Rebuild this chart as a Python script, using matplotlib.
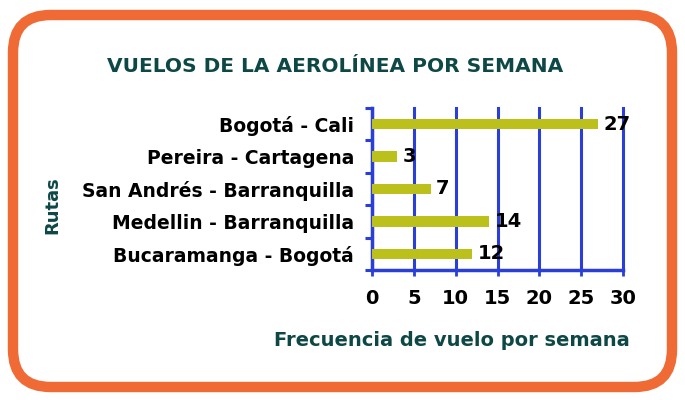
import matplotlib
matplotlib.use("Agg")
import matplotlib.pyplot as plt
from matplotlib.patches import FancyBboxPatch

# data
rutas = ["Bucaramanga - Bogotá", "Medellin - Barranquilla", "San Andrés - Barranquilla",
         "Pereira - Cartagena", "Bogotá - Cali"]
vuelos = [12, 14, 7, 3, 27]
xticks = [0, 5, 10, 15, 20, 25, 30]

verde = "#0e4846"
azul = "#2a3ed8"
barra = "#bcc01b"
naranja = "#f06a35"

plt.rcParams["font.family"] = "DejaVu Sans"

fig = plt.figure(figsize=(6.85, 4.0), dpi=100)

# orange rounded frame, behind the axes
marco = FancyBboxPatch((13 / 685, 13 / 400), 659 / 685, 372 / 400,
                       boxstyle="round,pad=0,rounding_size=0.055",
                       transform=fig.transFigure, facecolor="white",
                       edgecolor=naranja, linewidth=7.5, mutation_aspect=685 / 400,
                       zorder=-5)
fig.patches.append(marco)

ax = fig.add_axes([372 / 685, 1 - 270 / 400, 251 / 685, 162 / 400])
ax.set_facecolor("none")

pos = list(range(len(rutas)))
ax.barh(pos, vuelos, height=0.32, color=barra, zorder=3)

for p, v in zip(pos, vuelos):
    ax.annotate(str(v), (v, p), xytext=(4, 0), textcoords="offset points",
                va="center", ha="left", fontsize=14, fontweight="bold", color="black")

ax.set_xlim(0, 30)
ax.set_ylim(-0.5, len(rutas) - 0.5)
ax.set_xticks(xticks)
ax.set_xticklabels([str(t) for t in xticks], fontsize=14, fontweight="bold")
ax.set_yticks(pos)
ax.set_yticklabels(rutas, fontsize=13.5, fontweight="bold")
ax.set_yticks([p - 0.5 for p in pos] + [len(rutas) - 0.5], minor=True)

ax.tick_params(axis="y", which="major", length=0, pad=13)
ax.tick_params(axis="y", which="minor", length=5, width=2.2, color=azul)
ax.tick_params(axis="x", length=4, width=2, color=azul, pad=10)

ax.grid(axis="x", color=azul, linewidth=2.2, zorder=1)
for g in ax.get_xgridlines():
    g.set_clip_on(False)
ax.set_axisbelow(True)
for s in ["top", "right"]:
    ax.spines[s].set_visible(False)
for s in ["left", "bottom"]:
    ax.spines[s].set_color(azul)
    ax.spines[s].set_linewidth(2.5)

fig.text(335 / 685, 1 - 66 / 400, "VUELOS DE LA AEROLÍNEA POR SEMANA", ha="center", va="center",
         fontsize=14.5, fontweight="bold", color=verde)
fig.text(52 / 685, 1 - 205 / 400, "Rutas", ha="center", va="center", rotation=90,
         fontsize=13, fontweight="bold", color=verde)
fig.text(452 / 685, 1 - 340 / 400, "Frecuencia de vuelo por semana", ha="center", va="center",
         fontsize=14, fontweight="bold", color=verde)

fig.savefig("out.png", dpi=100)
